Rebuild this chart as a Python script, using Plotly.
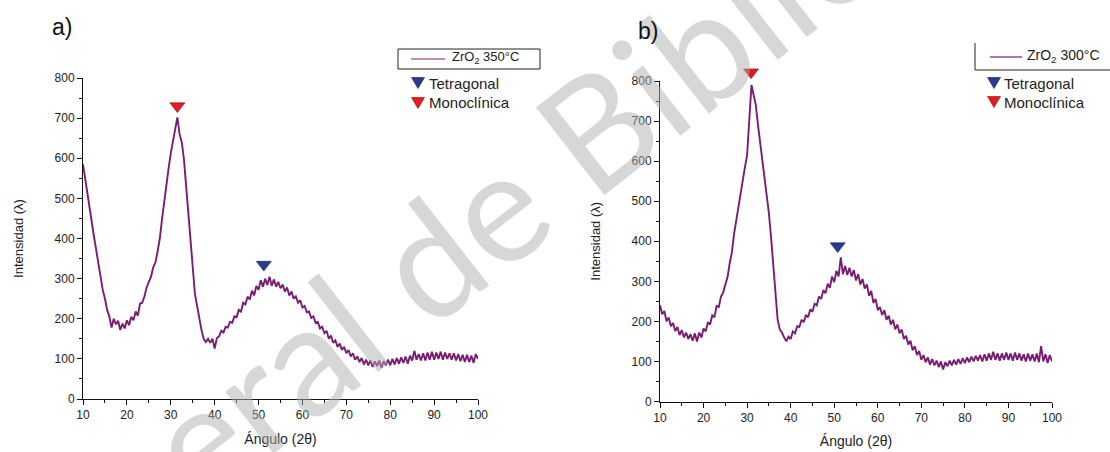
import plotly.graph_objects as go

W, H = 1110, 452

# ---------------- data ----------------
angle_start, angle_step, n_pts = 10.0, 0.5, 181
angles = [angle_start + angle_step * i for i in range(n_pts)]

intensity_350 = [
    585, 548, 505, 470, 438, 405, 372, 338, 305, 272, 250, 222, 206, 178, 200, 186, 195, 172, 188, 176,
    196, 184, 205, 196, 218, 208, 238, 240, 256, 278, 292, 305, 328, 340, 368, 400, 448, 495, 538, 575,
    612, 640, 668, 702, 660, 640, 598, 528, 470, 392, 318, 262, 232, 196, 172, 150, 142, 150, 140, 150,
    126, 152, 156, 170, 166, 180, 178, 192, 190, 206, 204, 222, 218, 240, 236, 255, 248, 270, 258, 282,
    272, 296, 280, 300, 284, 305, 282, 298, 280, 292, 276, 285, 268, 278, 258, 268, 250, 256, 240, 246,
    228, 232, 216, 218, 202, 206, 190, 192, 176, 180, 164, 170, 150, 158, 140, 146, 130, 138, 122, 130,
    114, 122, 106, 114, 98, 106, 92, 102, 86, 98, 84, 96, 80, 94, 82, 96, 78, 94, 84, 98,
    84, 100, 86, 102, 88, 104, 90, 106, 88, 108, 96, 120, 98, 112, 96, 114, 96, 116, 98, 118,
    98, 116, 100, 118, 98, 116, 100, 114, 98, 114, 96, 112, 94, 110, 92, 110, 92, 108, 90, 112,
    100,
]

intensity_300 = [
    240, 218, 226, 200, 210, 188, 196, 176, 186, 166, 178, 160, 172, 156, 168, 152, 170, 150, 172, 160,
    182, 175, 198, 192, 215, 210, 238, 236, 262, 272, 292, 310, 345, 372, 418, 452, 492, 525, 552, 585,
    615, 690, 790, 765, 740, 690, 648, 605, 568, 520, 470, 410, 345, 270, 205, 180, 172, 160, 150, 162,
    156, 175, 170, 188, 186, 204, 198, 216, 210, 230, 224, 244, 240, 262, 256, 278, 270, 294, 284, 312,
    298, 326, 312, 360, 318, 338, 316, 334, 312, 328, 302, 318, 292, 306, 282, 292, 264, 276, 246, 256,
    228, 236, 216, 228, 204, 214, 192, 204, 180, 192, 170, 180, 156, 164, 142, 152, 128, 138, 116, 126,
    104, 116, 98, 110, 92, 106, 90, 102, 86, 100, 80, 98, 88, 102, 90, 104, 92, 106, 94, 108,
    96, 110, 98, 112, 100, 114, 102, 116, 100, 118, 102, 120, 104, 124, 104, 120, 102, 120, 104, 122,
    104, 120, 102, 122, 104, 120, 102, 118, 100, 120, 102, 118, 100, 120, 98, 138, 100, 118, 96, 116,
    100,
]

# peak markers: (angle, height)
mono_350 = ([31.5], [730])
tetra_350 = ([51.2], [335])
mono_300 = ([30.9], [822])
tetra_300 = ([50.8], [388])

x_ticks = [10, 20, 30, 40, 50, 60, 70, 80, 90, 100]
y_ticks = [0, 100, 200, 300, 400, 500, 600, 700, 800]
y_max = 800
marker_y_max = 850  # headroom for markers drawn above the frame

LINE = "#7a1c72"
RED = "#e31b23"
BLUE = "#2b3a8c"
FONT = "Liberation Sans, Arial, sans-serif"


def px(x):
    return x / W


def py(y):
    return 1 - y / H


fig = go.Figure()

panels = [
    dict(data=intensity_350, mono=mono_350, tetra=tetra_350, xd=(83, 478), yd=(399, 78)),
    dict(data=intensity_300, mono=mono_300, tetra=tetra_300, xd=(660, 1052), yd=(401.5, 81)),
]

axis_common = dict(
    showline=True, linecolor="#111", linewidth=1, mirror=False,
    ticks="outside", ticklen=5, tickwidth=1, tickcolor="#111",
    showgrid=False, zeroline=False, automargin=False,
    tickfont=dict(family=FONT, size=12, color="#222"),
)
minor_common = dict(ticks="outside", ticklen=3, tickwidth=1, tickcolor="#111", showgrid=False)

layout = dict(
    width=W, height=H, margin=dict(l=0, r=0, t=0, b=0, autoexpand=False),
    paper_bgcolor="white", plot_bgcolor="rgba(0,0,0,0)",
    font=dict(family=FONT, color="#222"),
    showlegend=False,
)

for i, p in enumerate(panels):
    xn = "x" if i == 0 else "x2"
    yn = "y" if i == 0 else "y2"
    ym = "y3" if i == 0 else "y4"
    xk = "xaxis" if i == 0 else "xaxis2"
    yk = "yaxis" if i == 0 else "yaxis2"
    mk = "yaxis3" if i == 0 else "yaxis4"
    y0px, y1px = p["yd"]
    unit = (y0px - y1px) / y_max
    layout[xk] = dict(
        axis_common, domain=[px(p["xd"][0]), px(p["xd"][1])], range=[10, 100],
        tickvals=x_ticks, anchor=yn,
        minor=dict(minor_common, dtick=5, tick0=5),
        title=dict(text="Ángulo (2θ)", font=dict(family=FONT, size=14, color="#222"), standoff=12),
    )
    layout[yk] = dict(
        axis_common, domain=[py(y0px), py(y1px)], range=[0, y_max],
        tickvals=y_ticks, anchor=xn,
        minor=dict(minor_common, dtick=50, tick0=50),
        title=dict(text="Intensidad (λ)", font=dict(family=FONT, size=13, color="#222"), standoff=28),
    )
    # invisible companion axis with the same scale but more headroom, for peak markers
    layout[mk] = dict(
        domain=[py(y0px), py(y0px - marker_y_max * unit)], range=[0, marker_y_max],
        anchor=xn, visible=False, showgrid=False, zeroline=False, automargin=False,
    )

    fig.add_trace(go.Scatter(x=angles, y=p["data"], mode="lines",
                             line=dict(color=LINE, width=1.9),
                             xaxis=xn, yaxis=yn, showlegend=False, cliponaxis=False))
    fig.add_trace(go.Scatter(x=p["mono"][0], y=p["mono"][1], mode="markers",
                             marker=dict(symbol="triangle-down", size=13, color=RED,
                                         line=dict(color="#8a0a10", width=0.6)),
                             xaxis=xn, yaxis=ym, showlegend=False, cliponaxis=False))
    fig.add_trace(go.Scatter(x=p["tetra"][0], y=p["tetra"][1], mode="markers",
                             marker=dict(symbol="triangle-down", size=13, color=BLUE,
                                         line=dict(color="#14205a", width=0.6)),
                             xaxis=xn, yaxis=ym, showlegend=False, cliponaxis=False))

fig.update_layout(**layout)

shapes = []
annotations = []

# watermark (only the visible part of it)
annotations.append(dict(
    text="eral de Biblio", x=px(511), y=py(192), xref="paper", yref="paper",
    showarrow=False, textangle=-38, font=dict(family="Lato, sans-serif", size=155,
                                              color="rgba(175,175,175,0.5)"),
))

# panel labels
annotations.append(dict(text="a)", x=px(50), y=py(27), xref="paper", yref="paper",
                        xanchor="left", yanchor="middle", showarrow=False,
                        font=dict(family=FONT, size=23, color="#111")))
annotations.append(dict(text="b)", x=px(636), y=py(31), xref="paper", yref="paper",
                        xanchor="left", yanchor="middle", showarrow=False,
                        font=dict(family=FONT, size=23, color="#111")))

# legend a (boxed)
shapes.append(dict(type="rect", xref="paper", yref="paper",
                   x0=px(398), x1=px(540), y0=py(69), y1=py(49),
                   line=dict(color="#222", width=1), fillcolor="white"))
shapes.append(dict(type="line", xref="paper", yref="paper",
                   x0=px(411), x1=px(445), y0=py(59), y1=py(59),
                   line=dict(color=LINE, width=1.2)))
annotations.append(dict(text="ZrO<sub>2</sub> 350°C", x=px(450), y=py(58), xref="paper",
                        yref="paper", xanchor="left", yanchor="middle", showarrow=False,
                        font=dict(family=FONT, size=13, color="#222")))

# legend b (open box: left and bottom edges)
shapes.append(dict(type="line", xref="paper", yref="paper",
                   x0=px(975), x1=px(975), y0=py(43), y1=py(70),
                   line=dict(color="#222", width=1)))
shapes.append(dict(type="line", xref="paper", yref="paper",
                   x0=px(975), x1=px(1110), y0=py(70), y1=py(70),
                   line=dict(color="#222", width=1)))
shapes.append(dict(type="line", xref="paper", yref="paper",
                   x0=px(990), x1=px(1022), y0=py(57), y1=py(57),
                   line=dict(color=LINE, width=1.2)))
annotations.append(dict(text="ZrO<sub>2</sub> 300°C", x=px(1025), y=py(56), xref="paper",
                        yref="paper", xanchor="left", yanchor="middle", showarrow=False,
                        font=dict(family=FONT, size=14, color="#222")))


def tri(cx, cy, color, edge):
    w, h = 6.5, 11
    path = (f"M {px(cx - w)} {py(cy - h / 2)} L {px(cx + w)} {py(cy - h / 2)} "
            f"L {px(cx)} {py(cy + h / 2)} Z")
    return dict(type="path", xref="paper", yref="paper", path=path,
                fillcolor=color, line=dict(color=edge, width=0.6))


for (tx, ty, dy, txt_x) in [(418, 83, 20, 427), (994, 83, 19, 1002)]:
    shapes.append(tri(tx, ty, BLUE, "#14205a"))
    shapes.append(tri(tx, ty + dy, RED, "#8a0a10"))
    annotations.append(dict(text="Tetragonal", x=px(txt_x), y=py(ty), xref="paper", yref="paper",
                            xanchor="left", yanchor="middle", showarrow=False,
                            font=dict(family=FONT, size=15, color="#222")))
    annotations.append(dict(text="Monoclínica", x=px(txt_x), y=py(ty + dy), xref="paper",
                            yref="paper", xanchor="left", yanchor="middle", showarrow=False,
                            font=dict(family=FONT, size=15, color="#222")))

fig.update_layout(shapes=shapes, annotations=annotations)

fig.write_html("out.html", config={"displayModeBar": False},
               post_script="document.body.style.margin='0';")
